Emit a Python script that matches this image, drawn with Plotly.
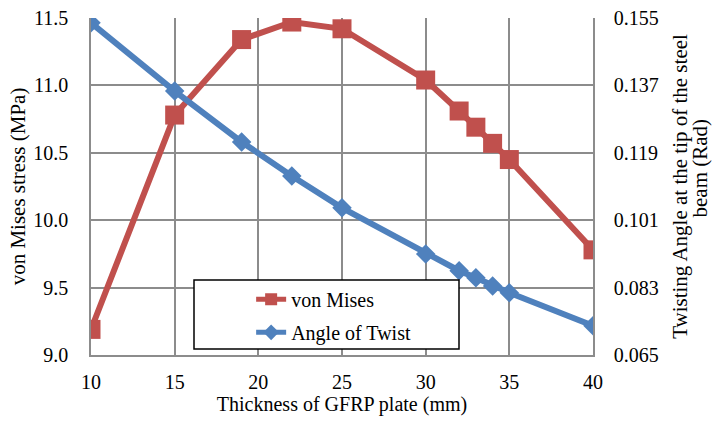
import plotly.graph_objects as go

thickness = [10, 15, 19, 22, 25, 30, 32, 33, 34, 35, 40]
von_mises = [9.19, 10.78, 11.34, 11.47, 11.42, 11.04, 10.81, 10.69, 10.57, 10.45, 9.78]
angle_twist = [0.1537, 0.1355, 0.1219, 0.1128, 0.1043, 0.0920, 0.0875, 0.0856, 0.0834, 0.0816, 0.0728]

x_ticks = [10, 15, 20, 25, 30, 35, 40]
left_ticks = [9.0, 9.5, 10.0, 10.5, 11.0, 11.5]
right_ticks = [0.065, 0.083, 0.101, 0.119, 0.137, 0.155]

RED = "#C0504D"
BLUE = "#4F81BD"
GRID = "#8C8C8C"
FONT = "Liberation Serif, Times New Roman, serif"
F = dict(family=FONT, size=20, color="black")
FT = dict(family=FONT, size=21, color="black")

fig = go.Figure()
fig.add_trace(go.Scatter(
    x=thickness, y=von_mises, name="von Mises", mode="lines+markers",
    line=dict(color=RED, width=6),
    marker=dict(symbol="square", size=19, color=RED),
    legendgroup="a", yaxis="y",
))
fig.add_trace(go.Scatter(
    x=thickness, y=angle_twist, name="Angle of Twist", mode="lines+markers",
    line=dict(color=BLUE, width=6),
    marker=dict(symbol="diamond", size=15, color=BLUE),
    legendgroup="b", yaxis="y2",
))

fig.update_layout(
    width=712, height=421,
    margin=dict(l=91, r=119, t=18, b=66, autoexpand=False),
    paper_bgcolor="white", plot_bgcolor="white",
    font=F,
    showlegend=True,
    legend=dict(
        x=0.319, y=0.223, xanchor="left", yanchor="top",
        bgcolor="rgba(0,0,0,0)", borderwidth=0, itemsizing="constant",
        font=F, tracegroupgap=4,
    ),
    xaxis=dict(
        range=[10, 40], tickvals=x_ticks, ticktext=[str(v) for v in x_ticks],
        showgrid=True, gridcolor=GRID, gridwidth=1.5,
        showline=True, linecolor=GRID, linewidth=1.5,
        zeroline=False, ticks="", ticklabelstandoff=8, tickfont=F,
        title=dict(text="Thickness of GFRP plate (mm)", standoff=4, font=F),
    ),
    yaxis=dict(
        range=[9.0, 11.5], tickvals=left_ticks, ticktext=[f"{v:.1f}" for v in left_ticks],
        showgrid=True, gridcolor=GRID, gridwidth=1.5,
        showline=True, linecolor=GRID, linewidth=1.5,
        zeroline=False, ticks="", ticklabelstandoff=17, tickfont=F,
        title=dict(text="von Mises stress (MPa)", standoff=2, font=FT),
    ),
    yaxis2=dict(
        range=[0.065, 0.155], tickvals=right_ticks, ticktext=[f"{v:.3f}" for v in right_ticks],
        overlaying="y", side="right", showgrid=False,
        showline=True, linecolor=GRID, linewidth=1.5,
        zeroline=False, ticks="", ticklabelstandoff=15, tickfont=F,
        title=dict(text="Twisting Angle at the tip of the steel", standoff=15, font=FT),
    ),
    annotations=[dict(
        text="beam (Rad)", textangle=-90, showarrow=False,
        xref="paper", yref="paper", x=(699.5 - 91) / 502, y=(355 - 168) / 337,
        xanchor="center", yanchor="middle", font=FT, borderpad=0,
    )],
    shapes=[dict(
        type="rect", xref="paper", yref="paper", layer="above",
        x0=(194 - 91) / 502, x1=(459 - 91) / 502,
        y0=(355 - 349) / 337, y1=(355 - 280) / 337,
        fillcolor="white", line=dict(color="black", width=1.5),
    )],
)

fig.write_html("out.html")
